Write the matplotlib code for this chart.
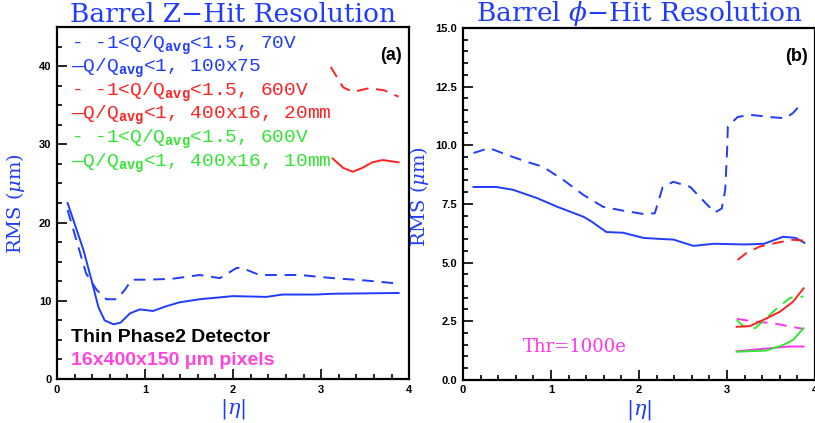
import matplotlib
matplotlib.use("Agg")
import matplotlib.pyplot as plt
from matplotlib.ticker import MultipleLocator

plt.rcParams['mathtext.fontset'] = 'custom'
plt.rcParams['mathtext.rm'] = 'Liberation Mono'
plt.rcParams['mathtext.bf'] = 'Liberation Mono:bold'
plt.rcParams['mathtext.it'] = 'DejaVu Serif:italic'

BLUE = '#1f3cff'
RED = '#ff2222'
GREEN = '#33e533'
MAGENTA = '#ff33ee'
PINK = '#ff44dd'

# ---- panel (a): Z-hit resolution ----
z_70v_eta = [0.12, 0.33, 0.45, 0.56, 0.68, 0.77, 0.85, 1.0, 1.3, 1.62, 1.85, 2.04, 2.1, 2.3, 2.76, 3.13, 3.5, 3.88]
z_70v_rms = [21.6, 13.5, 11.4, 10.2, 10.2, 11.4, 12.7, 12.7, 12.8, 13.3, 12.9, 14.2, 14.2, 13.3, 13.3, 12.9, 12.6, 12.2]

z_100x75_eta = [0.12, 0.3, 0.39, 0.47, 0.54, 0.64, 0.72, 0.83, 0.94, 1.09, 1.24, 1.39, 1.62, 2.0, 2.38, 2.56, 2.94, 3.13, 3.88]
z_100x75_rms = [22.5, 16.5, 12.7, 9.2, 7.5, 7.0, 7.2, 8.4, 8.9, 8.7, 9.3, 9.8, 10.2, 10.6, 10.5, 10.8, 10.8, 10.9, 11.0]

z_600v_eta = [3.11, 3.25, 3.36, 3.55, 3.72, 3.88]
z_600v_rms = [39.9, 37.3, 36.7, 37.2, 36.9, 36.1]

z_20mm_eta = [3.13, 3.25, 3.36, 3.47, 3.58, 3.7, 3.88]
z_20mm_rms = [28.2, 27.0, 26.5, 27.0, 27.7, 28.0, 27.7]

# ---- panel (b): phi-hit resolution ----
p_70v_eta = [0.12, 0.3, 0.5, 0.72, 0.91, 1.14, 1.37, 1.59, 1.82, 2.05, 2.18, 2.27, 2.39, 2.58, 2.69,
             2.86, 2.94, 2.98, 3.0, 3.01, 3.12, 3.26, 3.49, 3.66, 3.75, 3.85]
p_70v_rms = [9.67, 9.88, 9.59, 9.3, 9.08, 8.52, 7.88, 7.38, 7.21, 7.07, 7.1, 8.22, 8.44, 8.23, 7.8,
             7.13, 7.3, 8.1, 9.67, 10.8, 11.2, 11.3, 11.2, 11.15, 11.37, 11.8]

p_100x75_eta = [0.12, 0.38, 0.57, 0.84, 1.07, 1.37, 1.46, 1.63, 1.82, 2.05, 2.27, 2.39, 2.62, 2.85, 3.2, 3.42, 3.64, 3.78, 3.88]
p_100x75_rms = [8.22, 8.22, 8.1, 7.75, 7.38, 6.95, 6.75, 6.3, 6.27, 6.05, 6.0, 5.98, 5.71, 5.8, 5.77, 5.8, 6.1, 6.05, 5.84]

p_600v_eta = [3.12, 3.22, 3.37, 3.56, 3.75, 3.88]
p_600v_rms = [5.11, 5.4, 5.68, 5.84, 5.97, 5.93]

p_20mm_eta = [3.11, 3.26, 3.41, 3.6, 3.75, 3.87]
p_20mm_rms = [2.26, 2.29, 2.55, 2.9, 3.33, 3.9]

p_g600v_eta = [3.11, 3.18, 3.32, 3.45, 3.57, 3.72, 3.87]
p_g600v_rms = [2.55, 2.3, 2.2, 2.64, 3.06, 3.5, 3.55]

p_10mm_eta = [3.11, 3.45, 3.64, 3.75, 3.87]
p_10mm_rms = [1.2, 1.25, 1.49, 1.7, 2.2]

p_m_dash_eta = [3.11, 3.34, 3.52, 3.68, 3.87]
p_m_dash_rms = [2.6, 2.47, 2.42, 2.3, 2.17]

p_m_solid_eta = [3.11, 3.52, 3.7, 3.87]
p_m_solid_rms = [1.22, 1.36, 1.42, 1.42]

legend_lines = [
    ('- -1<Q/Q$_{\\mathbf{avg}}$<1.5, 70V', BLUE),
    ('\u2014Q/Q$_{\\mathbf{avg}}$<1, 100x75', BLUE),
    ('- -1<Q/Q$_{\\mathbf{avg}}$<1.5, 600V', RED),
    ('\u2014Q/Q$_{\\mathbf{avg}}$<1, 400x16, 20mm', RED),
    ('- -1<Q/Q$_{\\mathbf{avg}}$<1.5, 600V', GREEN),
    ('\u2014Q/Q$_{\\mathbf{avg}}$<1, 400x16, 10mm', GREEN),
]

fig = plt.figure(figsize=(8.15, 4.23), dpi=100)
ax1 = fig.add_axes((0.070, 0.104, 0.432, 0.832))
ax2 = fig.add_axes((0.568, 0.102, 0.432, 0.832))


def style_axes(ax, ymax, ymajor, yminor, yfmt):
    ax.set_xlim(0, 4)
    ax.set_ylim(0, ymax)
    ax.xaxis.set_major_locator(MultipleLocator(1))
    ax.xaxis.set_minor_locator(MultipleLocator(0.2))
    ax.yaxis.set_major_locator(MultipleLocator(ymajor))
    ax.yaxis.set_minor_locator(MultipleLocator(yminor))
    ax.tick_params(which='both', direction='in', top=False, right=False, width=1.2)
    ax.tick_params(which='major', length=7, labelsize=8, pad=4)
    ax.tick_params(which='minor', length=3.5)
    ax.yaxis.set_major_formatter(yfmt)
    for s in ax.spines.values():
        s.set_linewidth(1.6)
    ax.set_xlabel('|$\\eta$|', color=BLUE, fontsize=15, fontfamily='DejaVu Serif', labelpad=2)
    ax.set_ylabel('RMS ($\\mu$m)', color=BLUE, fontsize=14, fontfamily='DejaVu Serif')


style_axes(ax1, 45, 10, 2.5, '{x:.0f}')
style_axes(ax2, 15, 2.5, 0.5, '{x:.1f}')
for lab in ax1.get_xticklabels() + ax1.get_yticklabels() + ax2.get_xticklabels() + ax2.get_yticklabels():
    lab.set_fontweight('bold')
    lab.set_fontfamily('Liberation Sans')
ax1.yaxis.set_label_coords(-0.085, 0.5)
ax2.yaxis.set_label_coords(-0.09, 0.52)

lw = 1.4
dash = (0, (6, 4))

ax1.plot(z_70v_eta, z_70v_rms, color=BLUE, lw=lw, linestyle=dash)
ax1.plot(z_100x75_eta, z_100x75_rms, color=BLUE, lw=lw)
ax1.plot(z_600v_eta, z_600v_rms, color=RED, lw=lw, linestyle=dash)
ax1.plot(z_20mm_eta, z_20mm_rms, color=RED, lw=lw)

ax2.plot(p_70v_eta, p_70v_rms, color=BLUE, lw=lw, linestyle=dash)
ax2.plot(p_100x75_eta, p_100x75_rms, color=BLUE, lw=lw)
ax2.plot(p_600v_eta, p_600v_rms, color=RED, lw=lw, linestyle=dash)
ax2.plot(p_m_dash_eta, p_m_dash_rms, color=MAGENTA, lw=lw, linestyle=dash)
ax2.plot(p_m_solid_eta, p_m_solid_rms, color=MAGENTA, lw=lw)
ax2.plot(p_10mm_eta, p_10mm_rms, color=GREEN, lw=lw)
ax2.plot(p_g600v_eta, p_g600v_rms, color=GREEN, lw=lw, linestyle=dash)
ax2.plot(p_20mm_eta, p_20mm_rms, color=RED, lw=lw)

ax1.set_title('Barrel Z\u2212Hit Resolution', color=BLUE, fontsize=19,
              fontfamily='DejaVu Serif', pad=-3)
ax2.set_title('Barrel $\\phi$\u2212Hit Resolution', color=BLUE, fontsize=19,
              fontfamily='DejaVu Serif', pad=-3)

for i, (txt, col) in enumerate(legend_lines):
    ax1.text(0.04, 0.949 - i * 0.067, txt, transform=ax1.transAxes, color=col,
             fontsize=14, fontfamily='Liberation Mono', va='center', ha='left')

ax1.text(0.98, 0.92, '(a)', transform=ax1.transAxes, fontsize=13, fontweight='bold',
         fontfamily='Liberation Sans', ha='right', va='center')
ax2.text(0.98, 0.92, '(b)', transform=ax2.transAxes, fontsize=13, fontweight='bold',
         fontfamily='Liberation Sans', ha='right', va='center')

ax1.text(0.04, 0.119, 'Thin Phase2 Detector', transform=ax1.transAxes, fontsize=14,
         fontweight='bold', fontfamily='Liberation Sans', color='black', va='center')
ax1.text(0.04, 0.054, '16x400x150 \u03bcm pixels', transform=ax1.transAxes, fontsize=14,
         fontweight='bold', fontfamily='Liberation Sans', color=PINK, va='center')

ax2.text(0.17, 0.094, 'Thr=1000e', transform=ax2.transAxes, fontsize=13,
         fontfamily='DejaVu Serif', color=MAGENTA, va='center')

fig.savefig('out.png', dpi=100)
